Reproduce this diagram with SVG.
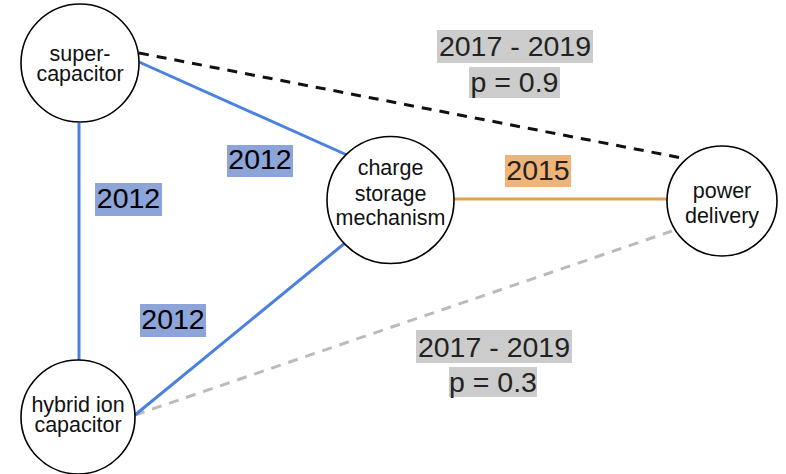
<svg xmlns="http://www.w3.org/2000/svg" width="786" height="474" viewBox="0 0 786 474">
<style>
.node circle{fill:#fff;stroke:#000;stroke-width:1.6}
.nt{font-family:"Liberation Sans",Arial,sans-serif;font-size:21.5px;fill:#111;text-anchor:middle}
.lt{font-family:"Liberation Sans",Arial,sans-serif;font-size:28.5px;fill:#222;text-anchor:middle}
.blue{stroke:#4a80e0;stroke-width:3;fill:none}
.bbox{fill:#8da4d8}
.gbox{fill:#cccccc}
.obox{fill:#f0b478}
</style>
<rect width="786" height="474" fill="#fff"/>
<g id="connectors">
<line x1="139" y1="53" x2="682" y2="158" stroke="#111" stroke-width="3" stroke-dasharray="10 8"/>
<line x1="135" y1="415" x2="672" y2="231" stroke="#bbbbbb" stroke-width="3" stroke-dasharray="10 8"/>
<line class="blue" x1="139" y1="62" x2="347" y2="155"/>
<line class="blue" x1="79" y1="123" x2="79" y2="360"/>
<line class="blue" x1="135" y1="415" x2="345" y2="243"/>
<line x1="454" y1="199" x2="667" y2="199" stroke="#e8a050" stroke-width="3"/>
</g>
<g id="labels">
<rect class="gbox" x="437" y="30" width="156" height="33"/>
<text class="lt" x="515" y="56">2017 - 2019</text>
<rect class="gbox" x="469" y="67" width="91" height="31"/>
<text class="lt" x="514.5" y="92">p = 0.9</text>
<rect class="gbox" x="416" y="330" width="156" height="33"/>
<text class="lt" x="494" y="357">2017 - 2019</text>
<rect class="gbox" x="449" y="367" width="88" height="30"/>
<text class="lt" x="493" y="392">p = 0.3</text>
<rect class="obox" x="505" y="155" width="66" height="32"/>
<text class="lt" x="538" y="180">2015</text>
<rect class="bbox" x="227" y="145" width="66" height="32"/>
<text class="lt" x="260" y="169" style="fill:#000">2012</text>
<rect class="bbox" x="95" y="183" width="67" height="33"/>
<text class="lt" x="128.5" y="208" style="fill:#000">2012</text>
<rect class="bbox" x="140" y="304" width="66" height="33"/>
<text class="lt" x="173" y="329" style="fill:#000">2012</text>
</g>
<g id="supercapacitor" class="node">
<circle cx="80" cy="63" r="59"/>
<text class="nt" x="80" y="61">super-</text>
<text class="nt" x="80" y="81">capacitor</text>
</g>
<g id="charge-storage" class="node">
<circle cx="390.5" cy="200" r="63.5"/>
<text class="nt" x="390.5" y="175">charge</text>
<text class="nt" x="390.5" y="201">storage</text>
<text class="nt" x="390.5" y="225">mechanism</text>
</g>
<g id="power-delivery" class="node">
<circle cx="722" cy="201" r="55"/>
<text class="nt" x="722" y="198">power</text>
<text class="nt" x="722" y="223">delivery</text>
</g>
<g id="hybrid-ion" class="node">
<circle cx="78" cy="417" r="57"/>
<text class="nt" x="78" y="412">hybrid ion</text>
<text class="nt" x="78" y="432">capacitor</text>
</g>
</svg>
